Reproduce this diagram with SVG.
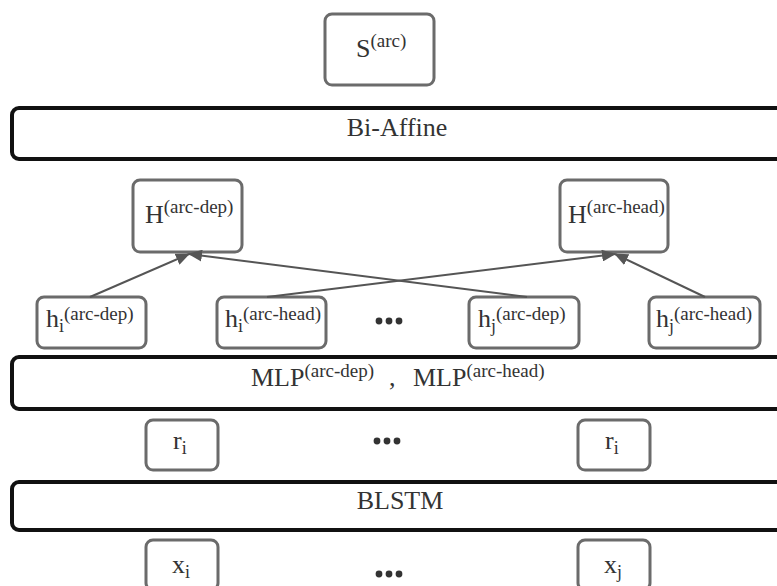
<svg xmlns="http://www.w3.org/2000/svg" width="777" height="586" viewBox="0 0 777 586">
  <style>
    .box { fill: #fff; stroke: #6b6b6b; stroke-width: 3; }
    .bar { fill: #fff; stroke: #111; stroke-width: 4; }
    .t { font-family: "Liberation Serif", "DejaVu Serif", serif; fill: #333; font-size: 26px; }
    .sup { font-size: 19px; }
    .sub { font-size: 18px; }
    .dots { fill: #333; }
    .edge { stroke: #555; stroke-width: 2; fill: none; marker-end: url(#arrow); }
  </style>
  <defs>
    <marker id="arrow" viewBox="0 0 14 12" refX="13" refY="6" markerWidth="14" markerHeight="12" markerUnits="userSpaceOnUse" orient="auto">
      <path d="M0,0 L14,6 L0,12 Z" fill="#555"/>
    </marker>
  </defs>
  <rect width="777" height="586" fill="#fff"/>

  <!-- output score -->
  <g id="s-arc">
    <rect class="box" x="325" y="14" width="109" height="71" rx="7"/>
    <text class="t" x="356" y="57">S<tspan class="sup" dy="-10">(arc)</tspan></text>
  </g>

  <!-- layers -->
  <g id="biaffine">
    <rect class="bar" x="12" y="108" width="790" height="51" rx="7"/>
    <text class="t" x="397" y="136" text-anchor="middle">Bi-Affine</text>
  </g>

  <g id="H-dep">
    <rect class="box" x="133" y="180" width="109" height="72" rx="7"/>
    <text class="t" x="145" y="223">H<tspan class="sup" dy="-10">(arc-dep)</tspan></text>
  </g>
  <g id="H-head">
    <rect class="box" x="560" y="180" width="108" height="72" rx="7"/>
    <text class="t" x="568" y="223">H<tspan class="sup" dy="-10">(arc-head)</tspan></text>
  </g>

  <g id="hi-dep">
    <rect class="box" x="37" y="297" width="109" height="51" rx="7"/>
    <text class="t" x="46" y="327">h<tspan class="sub" dy="5">i</tspan><tspan class="sup" dy="-12">(arc-dep)</tspan></text>
  </g>
  <g id="hi-head">
    <rect class="box" x="217" y="297" width="109" height="51" rx="7"/>
    <text class="t" x="225" y="327">h<tspan class="sub" dy="5">i</tspan><tspan class="sup" dy="-12">(arc-head)</tspan></text>
  </g>
  <g id="hj-dep">
    <rect class="box" x="469" y="297" width="110" height="51" rx="7"/>
    <text class="t" x="478" y="327">h<tspan class="sub" dy="5">j</tspan><tspan class="sup" dy="-12">(arc-dep)</tspan></text>
  </g>
  <g id="hj-head">
    <rect class="box" x="649" y="297" width="111" height="51" rx="7"/>
    <text class="t" x="656" y="327">h<tspan class="sub" dy="5">j</tspan><tspan class="sup" dy="-12">(arc-head)</tspan></text>
  </g>
  <g id="dots-h" class="dots">
    <circle cx="379" cy="321" r="3.4"/><circle cx="389" cy="321" r="3.4"/><circle cx="399" cy="321" r="3.4"/>
  </g>

  <g id="mlp">
    <rect class="bar" x="12" y="357" width="790" height="52" rx="7"/>
    <text class="t" x="251" y="386">MLP<tspan class="sup" dy="-9">(arc-dep)</tspan></text>
    <text class="t" x="389" y="386">,</text>
    <text class="t" x="413" y="386">MLP<tspan class="sup" dy="-9">(arc-head)</tspan></text>
  </g>

  <g id="r-i">
    <rect class="box" x="146" y="420" width="72" height="50" rx="7"/>
    <text class="t" x="173" y="449">r<tspan class="sub" dy="5">i</tspan></text>
  </g>
  <g id="dots-r" class="dots">
    <circle cx="377" cy="441" r="3.4"/><circle cx="387" cy="441" r="3.4"/><circle cx="397" cy="441" r="3.4"/>
  </g>
  <g id="r-j">
    <rect class="box" x="578" y="420" width="72" height="50" rx="7"/>
    <text class="t" x="605" y="449">r<tspan class="sub" dy="5">i</tspan></text>
  </g>

  <g id="blstm">
    <rect class="bar" x="12" y="482" width="790" height="48" rx="7"/>
    <text class="t" x="400" y="509" text-anchor="middle">BLSTM</text>
  </g>

  <g id="x-i">
    <rect class="box" x="146" y="540" width="72" height="50" rx="7"/>
    <text class="t" x="172" y="573">x<tspan class="sub" dy="5">i</tspan></text>
  </g>
  <g id="dots-x" class="dots">
    <circle cx="379" cy="574" r="3.4"/><circle cx="389" cy="574" r="3.4"/><circle cx="399" cy="574" r="3.4"/>
  </g>
  <g id="x-j">
    <rect class="box" x="578" y="540" width="72" height="50" rx="7"/>
    <text class="t" x="604" y="573">x<tspan class="sub" dy="5">j</tspan></text>
  </g>

  <!-- connectors -->
  <g id="connectors">
    <path class="edge" d="M90,297 L189,254"/>
    <path class="edge" d="M527,297 L189,254"/>
    <path class="edge" d="M267,297 L615,254"/>
    <path class="edge" d="M705,297 L615,254"/>
  </g>
</svg>
